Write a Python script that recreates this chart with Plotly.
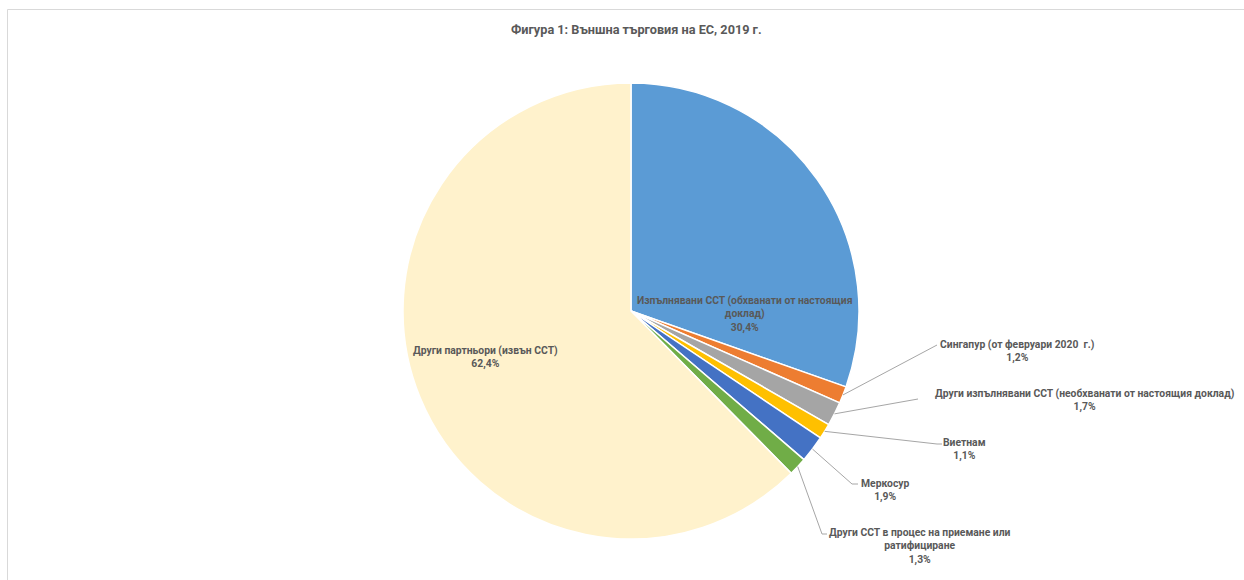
import math
import plotly.graph_objects as go

# ---- data ----
labels = [
    "Изпълнявани ССТ (обхванати от настоящия доклад)",
    "Сингапур (от февруари 2020  г.)",
    "Други изпълнявани ССТ (необхванати от настоящия доклад)",
    "Виетнам",
    "Меркосур",
    "Други ССТ в процес на приемане или ратифициране",
    "Други партньори (извън ССТ)",
]
values = [30.4, 1.2, 1.7, 1.1, 1.9, 1.3, 62.4]
value_text = ["30,4%", "1,2%", "1,7%", "1,1%", "1,9%", "1,3%", "62,4%"]
colors = ["#5B9BD5", "#ED7D31", "#A5A5A5", "#FFC000", "#4472C4", "#70AD47", "#FFF2CC"]

title = "Фигура 1: Външна търговия на ЕС, 2019 г."

# ---- layout constants (pixels) ----
W, H = 1244, 580
CX, CY, R = 631, 311, 228
FONT = "Roboto"
TXT = "#595959"
LINE = "#A6A6A6"
LSIZE = 10.35

def px(x):
    return x / W

def py(y):
    return 1 - y / H

fig = go.Figure()
fig.add_trace(go.Pie(
    labels=labels, values=values, sort=False, direction="clockwise", rotation=0,
    marker=dict(colors=colors, line=dict(color="white", width=1.5)),
    textinfo="none", hoverinfo="label+percent", showlegend=False,
    domain=dict(x=[px(CX - R), px(CX + R)], y=[py(CY + R), py(CY - R)]),
))

# label display texts (line-broken as in the picture)
disp = [
    "Изпълнявани ССТ (обхванати от настоящия<br>доклад)",
    "Сингапур (от февруари 2020  г.)",
    "Други изпълнявани ССТ (необхванати от настоящия доклад)",
    "Виетнам",
    "Меркосур",
    "Други ССТ в процес на приемане или<br>ратифициране",
    "Други партньори (извън ССТ)",
]

# inside labels: (x center, y center)
inside = {0: (745, 314), 6: (485, 357)}
# outside labels: (line end x, line end y, elbow length, text left x, text center y)
outside = {
    1: (937, 345, 0, 938, 351),
    2: (918, 399, 0, 933, 400),
    3: (937, 444, 5, 941, 449),
    4: (852, 484, 6, 859, 490),
    5: (822, 534, 5, 827, 546),
}

total = sum(values)
cum = 0.0
shapes = []
annotations = []
for i, v in enumerate(values):
    mid = (cum + v / 2) / total * 2 * math.pi
    cum += v
    text = f"<b>{disp[i]}<br>{value_text[i]}</b>"
    if i in inside:
        x, y = inside[i]
        annotations.append(dict(x=px(x), y=py(y), xref="paper", yref="paper",
                                text=text, showarrow=False, align="center",
                                xanchor="center", yanchor="middle",
                                font=dict(family=FONT, size=LSIZE, color=TXT)))
    else:
        sx = CX + R * math.sin(mid)
        sy = CY - R * math.cos(mid)
        ex, ey, el, tx, ty = outside[i]
        path = f"M {px(sx)} {py(sy)} L {px(ex)} {py(ey)}"
        if el:
            path += f" L {px(ex + el)} {py(ey)}"
        shapes.append(dict(type="path", xref="paper", yref="paper", path=path,
                           line=dict(color=LINE, width=1)))
        annotations.append(dict(x=px(tx), y=py(ty), xref="paper", yref="paper",
                                text=text, showarrow=False, align="center",
                                xanchor="left", yanchor="middle",
                                font=dict(family=FONT, size=LSIZE, color=TXT)))

# chart frame
shapes.append(dict(type="rect", xref="paper", yref="paper",
                   x0=px(7.5), x1=px(W + 5), y0=py(H + 5), y1=py(9.5),
                   line=dict(color="#D9D9D9", width=1), layer="below"))

annotations.append(dict(x=px(636), y=py(30), xref="paper", yref="paper",
                        text=f"<b>{title}</b>", showarrow=False,
                        xanchor="center", yanchor="middle",
                        font=dict(family=FONT, size=12.7, color=TXT)))

fig.update_layout(
    width=W, height=H, margin=dict(l=0, r=0, t=0, b=0),
    paper_bgcolor="white", plot_bgcolor="white",
    shapes=shapes, annotations=annotations,
)

fig.write_html("out.html")
